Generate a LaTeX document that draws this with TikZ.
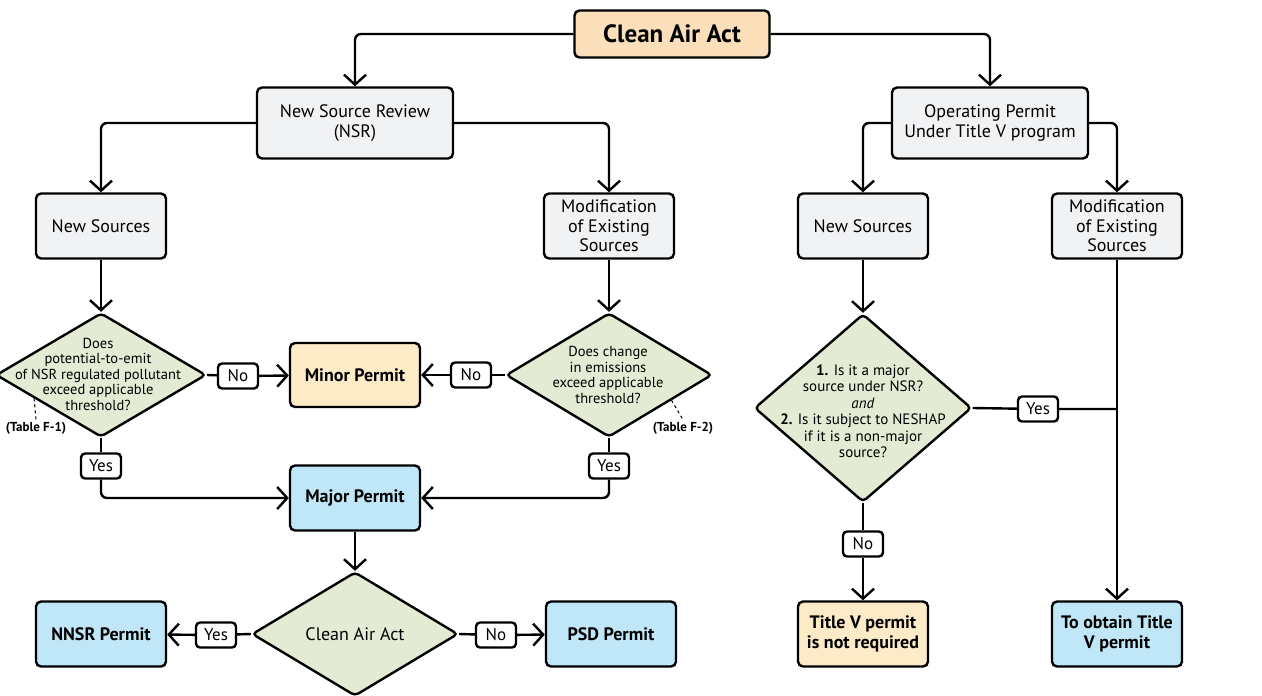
\documentclass[tikz,border=0pt]{standalone}
\usepackage{fontspec}
\setmainfont{PT Sans}
\usetikzlibrary{shapes.geometric,arrows.meta,calc}
\definecolor{boxgray}{HTML}{F1F2F4}
\definecolor{actorange}{HTML}{FBDFBB}
\definecolor{permorange}{HTML}{FDEBC8}
\definecolor{permblue}{HTML}{BFE7F7}
\definecolor{askgreen}{HTML}{E3EBD4}

\begin{document}
\begin{tikzpicture}[x=1pt,y=-1pt,line width=2.4pt,
    >={Straight Barb[length=10pt,width=22pt]},
    box/.style={draw,rounded corners=5pt,fill=boxgray,align=center,
      font=\fontsize{18}{19.5}\selectfont,minimum width=130pt,minimum height=65pt,inner sep=2pt},
    permit/.style={box,font=\bfseries\fontsize{18}{19.5}\selectfont},
    ask/.style={draw,diamond,rounded corners=4pt,fill=askgreen,inner sep=0pt},
    asktext/.style={align=center,font=\fontsize{14.5}{15.5}\selectfont,inner sep=0pt},
    lbl/.style={draw,rounded corners=4pt,fill=white,font=\fontsize{17}{17}\selectfont,
      inner sep=1pt,minimum width=40pt,minimum height=25pt},
    tab/.style={font=\bfseries\fontsize{13}{13}\selectfont,inner sep=1pt},
  ]
  \useasboundingbox (0,0) rectangle (1262,696);

  % top levels
  \node[box,fill=actorange,font=\bfseries\fontsize{25}{25}\selectfont,
    minimum width=195pt,minimum height=47pt] (caa) at (672,34) {Clean Air Act};
  \node[box,minimum width=196pt,minimum height=71pt] (nsr) at (355,123) {New Source Review\\(NSR)};
  \node[box,minimum width=196pt,minimum height=71pt] (opr) at (990,123) {Operating Permit\\Under Title V program};
  \node[box] (newl) at (101,226) {New Sources};
  \node[box] (modl) at (609,226) {Modification\\of Existing\\Sources};
  \node[box] (newr) at (863,226) {New Sources};
  \node[box] (modr) at (1117,226) {Modification\\of Existing\\Sources};

  % NSR questions
  \node[ask,minimum width=210pt,minimum height=124pt] (pte) at (101,375) {};
  \node[asktext] (ptetext) at (98,374) {Does\\potential-to-emit\\of NSR regulated pollutant\\exceed applicable\\threshold?};
  \node[ask,minimum width=206pt,minimum height=124pt] (chg) at (609,375) {};
  \node[asktext] (chgtext) at (608,375) {Does change\\in emissions\\exceed applicable\\threshold?};
  \node[tab] (tabf1) at (36,428) {(Table F-1)};
  \node[tab] (tabf2) at (683,428) {(Table F-2)};
  \node[permit,fill=permorange,minimum height=64pt] (minor) at (355,375) {Minor Permit};
  \node[lbl] (no1) at (238,376) {No};
  \node[lbl] (no2) at (471,375) {No};
  \node[lbl] (yes1) at (101,466) {Yes};
  \node[lbl] (yes2) at (609,466) {Yes};
  \node[permit,fill=permblue] (major) at (355,498) {Major Permit};

  % area question
  \node[ask,minimum width=206pt,minimum height=124pt] (area) at (355,634) {};
  \node[asktext,font=\fontsize{18}{18}\selectfont] (areatext) at (area) {Clean Air Act};
  \node[permit,fill=permblue] (nnsr) at (101,634) {NNSR Permit};
  \node[permit,fill=permblue] (psd) at (611,634) {PSD Permit};
  \node[lbl] (yes3) at (216,635) {Yes};
  \node[lbl] (no3) at (496,635) {No};

  % Title V question
  \node[ask,minimum width=217pt,minimum height=188pt] (tv) at (863,408) {};
  \node[asktext,font=\fontsize{15}{16.5}\selectfont] (tvtext) at (863,411)
    {\textbf{1.} Is it a major\\source under NSR?\\\textit{and}\\\textbf{2.} Is it subject to NESHAP\\if it is a non-major\\source?};
  \node[lbl] (no4) at (863,544) {No};
  \node[lbl] (yes4) at (1038,409) {Yes};
  \coordinate (join) at (1117,409);
  \node[permit,fill=permorange] (notreq) at (863,634) {Title V permit\\is not required};
  \node[permit,fill=permblue] (obtain) at (1117,634) {To obtain Title\\V permit};

  % connectors
  \draw[->,rounded corners=6pt] (caa.west) -| (nsr.north);
  \draw[->,rounded corners=6pt] (caa.east) -| (opr.north);
  \draw[->,rounded corners=6pt] (nsr.west) -| (newl.north);
  \draw[->,rounded corners=6pt] (nsr.east) -| (modl.north);
  \draw[->,rounded corners=6pt] (opr.west) -| (newr.north);
  \draw[->,rounded corners=6pt] (opr.east) -| (modr.north);
  \draw[->] (newl) -- (pte.north);
  \draw[->] (modl) -- (chg.north);
  \draw[->] (newr) -- (tv.north);
  \draw (pte.east) -- (no1);
  \draw[->] (no1) -- (minor);
  \draw (chg.west) -- (no2);
  \draw[->] (no2) -- (minor);
  \draw (pte.south) -- (yes1);
  \draw[->,rounded corners=6pt] (yes1) |- (major);
  \draw (chg.south) -- (yes2);
  \draw[->,rounded corners=6pt] (yes2) |- (major);
  \draw[->] (major) -- (area.north);
  \draw (area.west) -- (yes3);
  \draw[->] (yes3) -- (nnsr);
  \draw (area.east) -- (no3);
  \draw[->] (no3) -- (psd);
  \draw (tv.south) -- (no4);
  \draw[->] (no4) -- (notreq);
  \draw (tv.east) -- (yes4) -- (join);
  \draw[->] (modr) -- (obtain);
  \draw[dashed,line width=1pt] ($(pte.west)!0.37!(pte.south)$) -- (tabf1.north);
  \draw[dashed,line width=1pt] ($(chg.east)!0.4!(chg.south)$) -- (tabf2.north);
\end{tikzpicture}
\end{document}
